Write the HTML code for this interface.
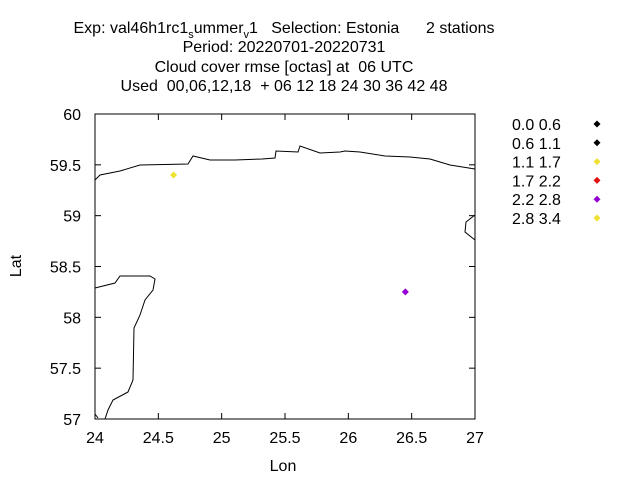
<!DOCTYPE html>
<html><head><meta charset="utf-8"><style>
body{margin:0;background:#fff}
svg{font-family:"Liberation Sans",sans-serif;font-size:16px}
text{white-space:pre}
</style></head><body>
<svg width="640" height="480" xmlns="http://www.w3.org/2000/svg">
<g text-anchor="middle" fill="#000">
<text x="284" y="33" xml:space="preserve">Exp: val46h1rc1<tspan font-size="11" dy="5">s</tspan><tspan dy="-5">ummer</tspan><tspan font-size="11" dy="5">v</tspan><tspan dy="-5">1   Selection: Estonia      2 stations</tspan></text>
<text x="284" y="52" xml:space="preserve">Period: 20220701-20220731</text>
<text x="284" y="72" xml:space="preserve">Cloud cover rmse [octas] at  06 UTC</text>
<text x="284" y="91" xml:space="preserve">Used  00,06,12,18  + 06 12 18 24 30 36 42 48</text>
</g>
<g id="axes"></g>
<g fill="none" stroke="#000" stroke-width="1">
<polyline points="95,180 100,175 120,171 140,165 188,164 193,156 210,160 235,160 262,159 275,158 276,151 298,152 300,146 320,153 340,152 345,151 360,152 385,156 410,157 430,159 450,165 475,169"/>
<polyline points="475,215 466,222 465,232 475,240"/>
<polyline points="95,288 115,283 120,276 150,276 155,279 153,290 145,300 140,315 134,328 133,380 128,392 113,400 108,410 105,419"/>
<polyline points="95,414 98,418"/>
</g>
<rect x="95" y="114" width="380" height="305" fill="none" stroke="#000"/>
<text x="283" y="471" text-anchor="middle">Lon</text>
<text x="21" y="266" text-anchor="middle" transform="rotate(-90 21 266)">Lat</text>
<g id="points"></g>
<g id="legend"></g>
</svg>
<script>
const xTicks=[24,24.5,25,25.5,26,26.5,27];
const yTicks=[57,57.5,58,58.5,59,59.5,60];
const stLon=[24.62,26.45];
const stLat=[59.40,58.25];
const stColor=["#f0e030","#9400d3"];
const legLabels=["0.0 0.6","0.6 1.1","1.1 1.7","1.7 2.2","2.2 2.8","2.8 3.4"];
const legColors=["#000000","#000000","#f0e030","#e01010","#9400d3","#f0e030"];
const X=v=>95+(v-24)/3*380, Y=v=>419-(v-57)/3*305;
const NS="http://www.w3.org/2000/svg";
function mk(t,a,p){const e=document.createElementNS(NS,t);for(const k in a)e.setAttribute(k,a[k]);p.appendChild(e);return e;}
const ax=document.getElementById('axes');
xTicks.forEach(v=>{const x=X(v);
 mk('line',{x1:x,x2:x,y1:419,y2:413,stroke:'#000'},ax);mk('line',{x1:x,x2:x,y1:114,y2:120,stroke:'#000'},ax);
 let t=mk('text',{x:x,y:443,'text-anchor':'middle'},ax);t.textContent=String(v);
 });
yTicks.forEach(v=>{const y=Y(v);
 mk('line',{x1:95,x2:101,y1:y,y2:y,stroke:'#000'},ax);mk('line',{x1:475,x2:469,y1:y,y2:y,stroke:'#000'},ax);
 let t=mk('text',{x:81,y:y+6,'text-anchor':'end'},ax);t.textContent=String(v);
 });
const pg=document.getElementById('points');
const dia=(x,y,c,p)=>mk('polygon',{points:`${x},${y-3.5} ${x+3.5},${y} ${x},${y+3.5} ${x-3.5},${y}`,fill:c},p);
stLon.forEach((v,i)=>{const d=dia(X(v),Y(stLat[i]),stColor[i],pg);
 });
const lg=document.getElementById('legend');
legLabels.forEach((s,i)=>{const y=124+i*18.8;
 let t=mk('text',{x:512,y:y+6},lg);t.textContent=s;
 
 let d=dia(597,y,legColors[i],lg);
 });
</script>
</body></html>
